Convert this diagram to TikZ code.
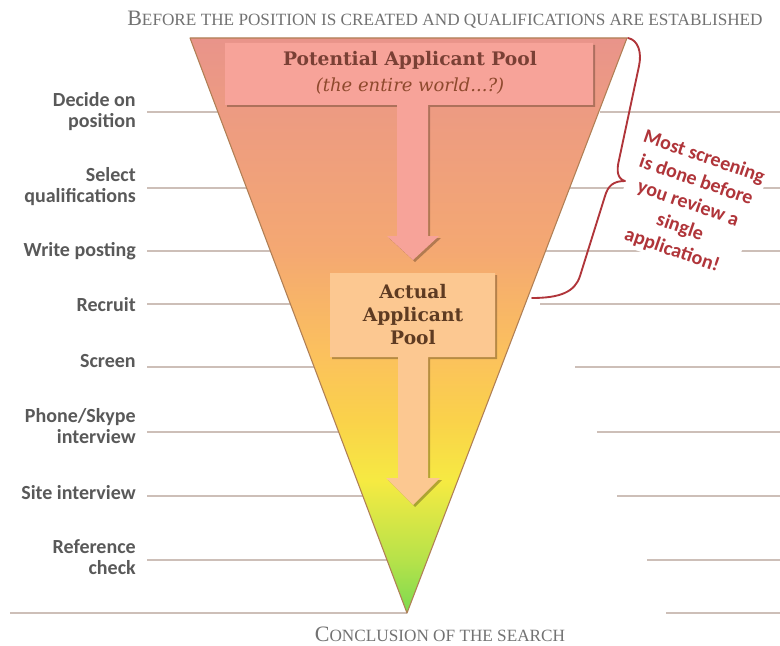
\documentclass[tikz,border=0pt]{standalone}
\usepackage{fontspec}
\setmainfont{Liberation Serif}
\newfontfamily\labelfont{Carlito}
\newfontfamily\boxfont{DejaVu Serif}
\usetikzlibrary{shadows}

% palette
\definecolor{labelgray}{HTML}{595959}
\definecolor{titlegray}{HTML}{727272}
\definecolor{rulecol}{HTML}{CDBFB8}
\definecolor{bracered}{HTML}{B0353A}
\definecolor{poolpink}{HTML}{F7A399}
\definecolor{poolpeach}{HTML}{FCC891}
\definecolor{pooltext}{HTML}{7A4035}
\definecolor{actualtext}{HTML}{5E3B22}
\definecolor{edgecol}{HTML}{B07F55}
% funnel gradient stops
\definecolor{fgreen}{HTML}{7CDA50}
\definecolor{flime}{HTML}{B5E24A}
\definecolor{fyellow}{HTML}{F6EA42}
\definecolor{fgold}{HTML}{FAD24A}
\definecolor{fapricot}{HTML}{FBC05E}
\definecolor{forange}{HTML}{F4A872}
\definecolor{fsalmon}{HTML}{E9948A}

\pgfdeclareverticalshading{funnel}{100bp}{%
  color(0bp)=(fgreen); color(25bp)=(fgreen); color(29.5bp)=(flime);
  color(36.5bp)=(fyellow); color(41.7bp)=(fgold); color(47.8bp)=(fapricot);
  color(56.5bp)=(forange); color(75bp)=(fsalmon); color(100bp)=(fsalmon)}

% fake small capitals: large initial, smaller upper-case rest
\newcommand\scinit[1]{{\fontsize{16.5}{16.5}\selectfont #1}}
\newcommand\screst[1]{{\fontsize{12.9}{12.9}\selectfont #1}}

\tikzset{
  stagelabel/.style={anchor=east, align=right, text=labelgray,
    font=\labelfont\bfseries\fontsize{15}{15.75}\selectfont, inner sep=0pt},
  guideline/.style={draw=rulecol, line width=1.6pt},
  poolshape/.style={drop shadow={shadow xshift=1.5pt, shadow yshift=-1.5pt,
    opacity=0.35, fill=black!70!brown}},
  pooltitle/.style={font=\boxfont\bfseries\fontsize{14}{17.25}\selectfont, align=center, inner sep=0pt},
  caption/.style={text=titlegray, inner sep=0pt},
}

\begin{document}
\begin{tikzpicture}[x=0.75pt,y=-0.75pt]
\useasboundingbox (0,0) rectangle (780,645);
\fill[white] (0,0) rectangle (780,645);

% guide lines behind the funnel
\foreach \yy in {112,188,251,304,367,432,496,560}
  \draw[guideline] (147,\yy) -- (407,\yy);
\foreach \yy/\xs in {112/600,188/570,251/545,304/540,367/575,432/597,496/617,560/647,613/666}
  \draw[guideline] (\xs,\yy) -- (780,\yy);
\draw[guideline] (10,613) -- (407,613);

% the funnel
\coordinate (tl) at (190,38);
\coordinate (tr) at (627,38);
\coordinate (apex) at (407,613);
\shade[shading=funnel, draw=edgecol, line width=0.8pt, line join=round] (tl) -- (tr) -- (apex) -- cycle;

% potential pool box with its down arrow
\path[poolshape, fill=poolpink]
  (225,43) -- (593,43) -- (593,105) -- (428,105) -- (428,236) -- (439,236)
  -- (413,260) -- (387,236) -- (397,236) -- (397,105) -- (225,105) -- cycle;
\node[pooltitle, text=pooltext] (potential) at (410,60) {Potential Applicant Pool};
\node[font=\boxfont\itshape\fontsize{13.5}{15}\selectfont, text=pooltext!85!orange, inner sep=0pt]
  (world) at (410,86) {(the entire world...?)};

% actual pool box with its down arrow
\path[poolshape, fill=poolpeach]
  (330,273) -- (495,273) -- (495,357) -- (428,357) -- (428,478) -- (440,478)
  -- (413,505) -- (386,478) -- (398,478) -- (398,357) -- (330,357) -- cycle;
\node[pooltitle, text=actualtext] (actual) at (413,315) {Actual\\Applicant\\Pool};

% stage labels
\node[stagelabel] (decide)  at (136,112) {Decide on\\position};
\node[stagelabel] (select)  at (136,187) {Select\\qualifications};
\node[stagelabel] (write)   at (136,251) {Write posting};
\node[stagelabel] (recruit) at (136,305) {Recruit};
\node[stagelabel] (screen)  at (136,361) {Screen};
\node[stagelabel] (phone)   at (136,426) {Phone/Skype\\interview};
\node[stagelabel] (site)    at (136,493) {Site interview};
\node[stagelabel] (refer)   at (136,557) {Reference\\check};

% brace and its note
\coordinate (btop) at (628,38);
\coordinate (btip) at (625,181);
\coordinate (bbot) at (532,298);
\draw[bracered, line width=1.4pt, line cap=round, line join=round]
  (btop) .. controls (638,40) and (642,52) .. (639,66)
  -- (619,160) .. controls (616,172) and (618,179) .. (btip)
  .. controls (613,181) and (608,186) .. (605,196)
  -- (580,276) .. controls (575,292) and (560,298) .. (bbot);
\node[rotate=-19, fill=white, inner sep=2pt, align=center, text=bracered,
  font=\labelfont\bfseries\fontsize{15}{18.5}\selectfont] (note) at (688,204)
  {Most screening\\is done before\\you review a\\single\\application!};

% captions
\node[caption] (before) at (445,20)
  {\scinit{B}\screst{EFORE THE POSITION IS CREATED AND QUALIFICATIONS ARE ESTABLISHED}};
\node[caption] (conclusion) at (440,634)
  {\scinit{C}\screst{ONCLUSION OF THE SEARCH}};
\end{tikzpicture}
\end{document}
